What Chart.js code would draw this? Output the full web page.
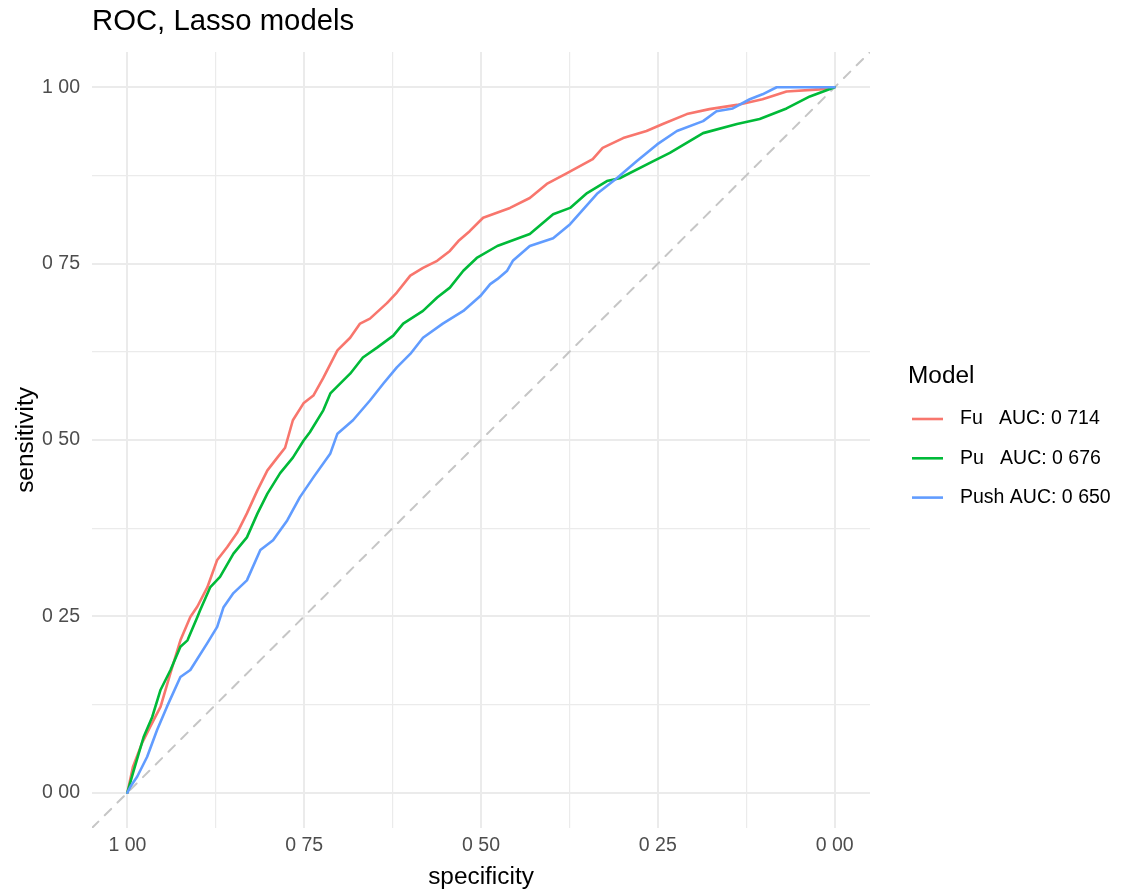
<!DOCTYPE html>
<html>
<head>
<meta charset="utf-8">
<script src="https://cdn.jsdelivr.net/npm/chart.js@4"></script>
<style>
  body { margin: 0; background: #fff; }
  canvas { display: block; }
</style>
</head>
<body>
<canvas id="rocChart" width="1123" height="893"></canvas>
<script>
const chartTitle = "ROC, Lasso models";
const legendTitle = "Model";
const modelNames = ["Fu", "Pu", "Push"];
const legendLabels = ["Fu   AUC: 0 714", "Pu   AUC: 0 676", "Push AUC: 0 650"];
const modelColors = ["#F8766D", "#00BA38", "#619CFF"];

// grid positions on both axes (majors every 0.25, minors in between)
const gridValues = [0, 0.125, 0.25, 0.375, 0.5, 0.625, 0.75, 0.875, 1];
const tickLabels = ["0 00", "", "0 25", "", "0 50", "", "0 75", "", "1 00"];

// ROC points: specificity / sensitivity per model
const fuSpec = [1.000, 0.992, 0.979, 0.968, 0.953, 0.939, 0.925, 0.911, 0.901, 0.887, 0.873, 0.859,
  0.845, 0.831, 0.816, 0.802, 0.788, 0.777, 0.766, 0.751, 0.737, 0.723, 0.703, 0.685, 0.671, 0.657, 0.633,
  0.619, 0.600, 0.582, 0.562, 0.544, 0.532, 0.516, 0.497, 0.459, 0.431, 0.407, 0.379, 0.342, 0.328, 0.299,
  0.266, 0.243, 0.209, 0.177, 0.138, 0.102, 0.068, 0.021, 0.000];
const fuSens = [0.000, 0.037, 0.071, 0.093, 0.122, 0.170, 0.216, 0.249, 0.264, 0.291, 0.330, 0.348,
  0.368, 0.396, 0.429, 0.457, 0.475, 0.489, 0.528, 0.552, 0.563, 0.588, 0.627, 0.645, 0.665, 0.672, 0.694,
  0.709, 0.733, 0.744, 0.754, 0.768, 0.782, 0.796, 0.815, 0.829, 0.843, 0.863, 0.878, 0.898, 0.914, 0.928,
  0.938, 0.948, 0.962, 0.969, 0.975, 0.983, 0.994, 0.997, 1.000];

const puSpec = [1.000, 0.992, 0.977, 0.965, 0.953, 0.939, 0.925, 0.915, 0.901, 0.897, 0.883, 0.869, 0.850,
  0.831, 0.816, 0.802, 0.784, 0.766, 0.751, 0.742, 0.723, 0.713, 0.685, 0.667, 0.647, 0.624, 0.610, 0.582,
  0.562, 0.544, 0.525, 0.506, 0.477, 0.431, 0.398, 0.374, 0.350, 0.322, 0.304, 0.257, 0.233, 0.186, 0.138,
  0.106, 0.068, 0.035, 0.000];
const puSens = [0.000, 0.028, 0.079, 0.107, 0.146, 0.174, 0.207, 0.216, 0.249, 0.259, 0.291, 0.306, 0.339,
  0.362, 0.396, 0.424, 0.453, 0.475, 0.499, 0.511, 0.542, 0.566, 0.594, 0.617, 0.631, 0.648, 0.665, 0.683,
  0.702, 0.716, 0.740, 0.758, 0.775, 0.792, 0.820, 0.829, 0.850, 0.867, 0.871, 0.895, 0.907, 0.935, 0.948,
  0.955, 0.970, 0.987, 1.000];

const pushSpec = [1.000, 0.996, 0.986, 0.972, 0.958, 0.944, 0.925, 0.911, 0.887, 0.873, 0.864, 0.850, 0.831,
  0.812, 0.794, 0.774, 0.756, 0.737, 0.713, 0.703, 0.681, 0.657, 0.638, 0.619, 0.600, 0.582, 0.554, 0.525,
  0.501, 0.487, 0.477, 0.463, 0.455, 0.431, 0.398, 0.374, 0.336, 0.308, 0.280, 0.251, 0.223, 0.186, 0.167,
  0.144, 0.120, 0.102, 0.082, 0.000];
const pushSens = [0.000, 0.008, 0.023, 0.051, 0.089, 0.122, 0.164, 0.174, 0.212, 0.235, 0.263, 0.283, 0.301,
  0.344, 0.358, 0.386, 0.419, 0.447, 0.481, 0.509, 0.528, 0.556, 0.580, 0.603, 0.622, 0.645, 0.665, 0.683,
  0.704, 0.721, 0.728, 0.740, 0.754, 0.775, 0.786, 0.806, 0.849, 0.871, 0.895, 0.919, 0.938, 0.952, 0.966,
  0.970, 0.983, 0.990, 1.000, 1.000];

const axisMin = -0.05;
const axisMax = 1.05;

const FONT = '"Liberation Sans", Arial, Helvetica, sans-serif';
Chart.defaults.font.family = FONT;

const toPoints = (xs, ys) => xs.map((x, i) => ({ x: x, y: ys[i] }));

const curves = [
  toPoints(fuSpec, fuSens),
  toPoints(puSpec, puSens),
  toPoints(pushSpec, pushSens)
];

const datasets = curves.map((pts, i) => ({
  label: modelNames[i],
  data: pts,
  showLine: true,
  borderColor: modelColors[i],
  borderWidth: 2.6,
  pointRadius: 0,
  order: 2 - i
}));

// chance line sensitivity = 1 - specificity, across the full panel
datasets.push({
  label: "chance",
  data: [{ x: axisMax, y: 1 - axisMax }, { x: axisMin, y: 1 - axisMin }],
  showLine: true,
  borderColor: "#c6c6c6",
  borderWidth: 2,
  borderDash: [9, 9],
  pointRadius: 0,
  order: 5
});

const setGridTicks = (scale) => {
  scale.ticks = gridValues.map(v => ({ value: v }));
};

const gridWidth = (ctx) => (ctx.index % 2 === 0 ? 2 : 1.2);

const tickFont = { family: FONT, size: 19.5 };

// title and model key, drawn beside the panel
const rocDecor = {
  id: "rocDecor",
  afterDraw(chart) {
    const { ctx, chartArea } = chart;
    ctx.save();
    ctx.fillStyle = "#000";
    ctx.textAlign = "left";
    ctx.textBaseline = "middle";
    ctx.font = "29.3px " + FONT;
    ctx.fillText(chartTitle, chartArea.left, 22);

    const midY = (chartArea.top + chartArea.bottom) / 2;
    const x0 = chartArea.right + 38;
    ctx.font = "24.4px " + FONT;
    ctx.fillText(legendTitle, x0, midY - 64);

    ctx.font = "19.5px " + FONT;
    ctx.lineWidth = 2.6;
    legendLabels.forEach((label, i) => {
      const y = midY - 21 + i * 39.3;
      ctx.strokeStyle = modelColors[i];
      ctx.beginPath();
      ctx.moveTo(x0 + 4, y);
      ctx.lineTo(x0 + 35, y);
      ctx.stroke();
      ctx.fillText(label, x0 + 52, y);
    });
    ctx.restore();
  }
};

new Chart(document.getElementById("rocChart"), {
  type: "scatter",
  data: { datasets: datasets },
  plugins: [rocDecor],
  options: {
    responsive: false,
    animation: false,
    layout: { padding: { top: 52, right: 253, bottom: 0, left: 0 } },
    plugins: {
      legend: { display: false },
      tooltip: { enabled: false }
    },
    elements: {
      line: { tension: 0, borderJoinStyle: "round", borderCapStyle: "round" }
    },
    scales: {
      x: {
        type: "linear",
        reverse: true,
        min: axisMin,
        max: axisMax,
        afterBuildTicks: setGridTicks,
        afterFit: (scale) => { scale.height = 65; },
        border: { display: false },
        grid: { color: "#ebebeb", lineWidth: gridWidth, drawTicks: false },
        ticks: {
          autoSkip: false,
          maxRotation: 0,
          padding: 6,
          color: "#4d4d4d",
          font: tickFont,
          callback: (v, i) => tickLabels[i]
        },
        title: {
          display: true,
          text: "specificity",
          color: "#000",
          font: { family: FONT, size: 24.4 },
          padding: { top: 0, bottom: 1 }
        }
      },
      y: {
        type: "linear",
        min: axisMin,
        max: axisMax,
        afterBuildTicks: setGridTicks,
        afterFit: (scale) => { scale.width = 92; },
        border: { display: false },
        grid: { color: "#ebebeb", lineWidth: gridWidth, drawTicks: false },
        ticks: {
          autoSkip: false,
          padding: 12,
          color: "#4d4d4d",
          font: tickFont,
          callback: (v, i) => tickLabels[i]
        },
        title: {
          display: true,
          text: "sensitivity",
          color: "#000",
          font: { family: FONT, size: 24.4 },
          padding: { top: 12, bottom: 0 }
        }
      }
    }
  }
});
</script>
</body>
</html>
